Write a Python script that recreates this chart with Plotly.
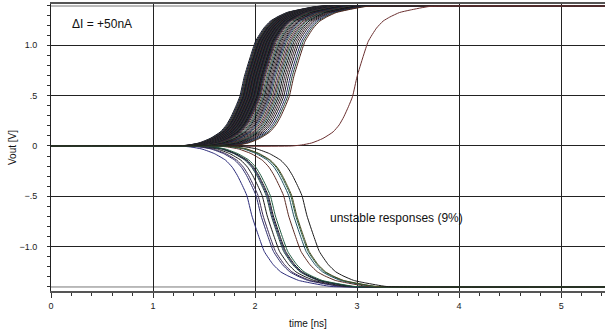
import plotly.graph_objects as go

# ---- data ----
# template waveform (from the lone late curve): time offset from the 0.5 V crossing [ns] and voltage [V]
tmpl_dt = [-0.60, -0.50, -0.40, -0.29, -0.19, -0.13, -0.085, -0.04, 0.0, 0.045, 0.105, 0.155, 0.235, 0.30, 0.365, 0.46, 0.565, 0.75, 1.00]
tmpl_v = [0.000, 0.010, 0.030, 0.075, 0.140, 0.210, 0.290, 0.390, 0.490, 0.690, 0.890, 1.040, 1.170, 1.240, 1.280, 1.325, 1.350, 1.385, 1.390]

# 0.5 V crossing times of the rising (stable) responses [ns]
rise_t50 = [1.850, 1.858, 1.862, 1.868, 1.872, 1.876, 1.880, 1.884, 1.887, 1.890, 1.893, 1.896,
            1.899, 1.902, 1.905, 1.907, 1.910, 1.912, 1.915, 1.917, 1.920, 1.922, 1.925, 1.927,
            1.930, 1.932, 1.935, 1.937, 1.940, 1.942, 1.945, 1.947, 1.950, 1.952, 1.955, 1.957,
            1.960, 1.962, 1.965, 1.968, 1.970, 1.973, 1.975, 1.978, 1.980, 1.983, 1.985, 1.988,
            1.990, 1.993, 1.996, 1.999, 2.002, 2.005, 2.008, 2.011, 2.014, 2.018, 2.022, 2.026,
            2.030, 2.035, 2.040, 2.046,
            2.055, 2.068, 2.080, 2.092, 2.105, 2.118, 2.130, 2.142, 2.155, 2.170, 2.185, 2.198,
            2.212, 2.228, 2.245, 2.262, 2.280, 2.300, 2.318, 2.335,
            2.955]
# -0.5 V crossing times of the falling (unstable) responses [ns]
fall_t50 = [1.92, 2.01, 2.03, 2.07, 2.11, 2.12, 2.13, 2.15, 2.28, 2.33, 2.35, 2.36, 2.46]
fall_level = -1.40
rise_level = 1.39
t_start = 0.0
t_end = 5.45

x_ticks = [0, 1, 2, 3, 4, 5]
y_ticks = [-1.0, -0.5, 0.0, 0.5, 1.0]
y_ticklabels = ["\u22121.0", "\u2212.5", "0", ".5", "1.0"]

# ---- styles ----
palette = ["#141414", "#22225e", "#173d30", "#4e221b", "#30224a", "#3e3e18",
           "#183f4c", "#000000", "#262626", "#361a28"]
fall_colors = ["#2b2b7a", "#2b2b6b", "#3a2a55", "#1a1a1a", "#1f4a3a", "#2b2b6b", "#1a1a1a",
               "#1f5a40", "#5a2a22", "#1f4f5f", "#1f5a40", "#4a4a20", "#1a1a1a"]
lone_color = "#6b3030"

fig = go.Figure()


def add_curve(t50, sign, level, color, stretch=1.0):
    xs = [t_start] + [t50 + d * stretch for d in tmpl_dt] + [t_end]
    ys = [0.0] + [sign * v * level / rise_level for v in tmpl_v] + [sign * level]
    fig.add_trace(go.Scatter(x=xs, y=ys, mode="lines",
                             line=dict(color=color, width=1.0, shape="spline", smoothing=0.5),
                             hoverinfo="skip", showlegend=False))


for i, t in enumerate(rise_t50):
    c = lone_color if t == rise_t50[-1] else palette[i % len(palette)]
    add_curve(t, 1, rise_level, c)
for i, t in enumerate(fall_t50):
    add_curve(t, -1, -fall_level, fall_colors[i % len(fall_colors)], stretch=1.1)

font = "Liberation Sans, Arial, Helvetica, sans-serif"

fig.update_layout(
    width=605, height=332,
    margin=dict(l=51, r=0, t=4, b=41),
    paper_bgcolor="white", plot_bgcolor="white",
    font=dict(family=font, size=9, color="#222"),
    xaxis=dict(range=[0, 5.43], tickvals=x_ticks, ticktext=[str(v) for v in x_ticks],
               showgrid=True, gridcolor="#222", gridwidth=1, zeroline=False,
               showline=True, linecolor="#555", linewidth=1.5, mirror=True,
               ticks="outside", ticklen=5, tickcolor="#333", ticklabelstandoff=0,
               minor=dict(dtick=0.2, tick0=0, ticks="outside", ticklen=3, tickcolor="#333", showgrid=False)),
    yaxis=dict(range=[-1.44, 1.41], tickvals=y_ticks, ticktext=y_ticklabels,
               showgrid=True, gridcolor="#222", gridwidth=1, zeroline=False,
               showline=True, linecolor="#222", linewidth=1,
               ticks="outside", ticklen=3, tickcolor="#333", ticklabelstandoff=8,
               minor=dict(dtick=0.1, tick0=0, ticks="outside", ticklen=3, tickcolor="#333", showgrid=False)),
    shapes=[
        dict(type="line", xref="paper", x0=0, x1=1, yref="y", y0=rise_level, y1=rise_level,
             line=dict(color="#777", width=1), layer="below"),
        dict(type="line", xref="paper", x0=0, x1=1, yref="y", y0=fall_level, y1=fall_level,
             line=dict(color="#777", width=1), layer="below"),
    ],
    annotations=[
        dict(text="\u0394I = +50nA", x=0.19, y=1.21, xref="x", yref="y", xanchor="left",
             yanchor="middle", showarrow=False, font=dict(size=12, color="#111")),
        dict(text="unstable responses (9%)", x=2.716, y=-0.715, xref="x", yref="y", xanchor="left",
             yanchor="middle", showarrow=False, font=dict(size=12, color="#111")),
        dict(text="time [ns]", x=(308 - 51) / 554, y=-(323 - 291) / 287, xref="paper", yref="paper",
             xanchor="center", yanchor="middle", showarrow=False, font=dict(size=10, color="#111")),
        dict(text="Vout [V]", x=-(51 - 12) / 554, y=(291 - 148) / 287, xref="paper", yref="paper",
             xanchor="center", yanchor="middle", textangle=-90, showarrow=False,
             font=dict(size=10, color="#111")),
    ],
)

fig.write_html("out.html", config={"displayModeBar": False},
               post_script="document.body.style.margin='0px';document.body.style.overflow='hidden';")
